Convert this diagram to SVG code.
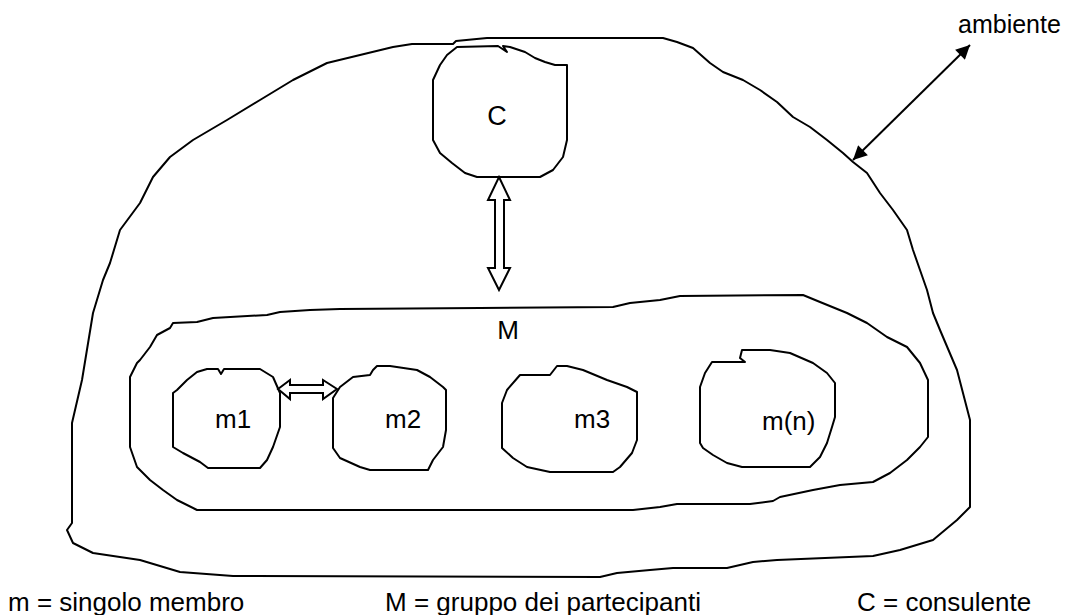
<svg xmlns="http://www.w3.org/2000/svg" width="1072" height="615" viewBox="0 0 1072 615">
<defs>
<style>
.blob{fill:none;stroke:#000;stroke-width:2;stroke-linejoin:round}
.hollow{fill:#fff;stroke:#000;stroke-width:2;stroke-linejoin:miter}
.lbl{font-family:"Liberation Sans",Arial,sans-serif;font-size:26px;fill:#000}
.leg{font-family:"Liberation Sans",Arial,sans-serif;font-size:26px;fill:#000}
</style>
<marker id="ah" viewBox="0 0 10 10" refX="10" refY="5" markerWidth="10" markerHeight="7" markerUnits="strokeWidth" orient="auto-start-reverse">
<path d="M0,0 L10,5 L0,10 z" fill="#000"/>
</marker>
</defs>
<rect width="1072" height="615" fill="#fff"/>

<g id="ambiente-node">
<path class="blob" d="M453,44 L456,41 L487,38 L663,38 L677,42 L693,48 L710,63 L723,72 L743,80 L760,90 L777,102 L793,117 L810,127 L827,140 L843,153 L853,162 L867,173 L880,193 L893,210 L907,230 L913,250 L920,270 L927,290 L933,313 L940,330 L957,370 L970,420 L970,507 L957,520 L933,540 L900,550 L873,556 L777,560 L753,562 L727,568 L673,568 L650,570 L617,573 L600,577 L233,576 L180,572 L140,560 L93,553 L73,543 L67,530 L72,523 L72,423 L82,380 L93,313 L103,280 L110,263 L120,230 L140,203 L153,177 L170,157 L193,140 L227,120 L260,100 L293,80 L327,63 L360,55 L393,47 L412,44 Z"/>
<text class="lbl" x="958" y="33" style="font-size:25px">ambiente</text>
</g>

<g id="node-C">
<path class="blob" d="M457,47 L498,46 L507,52 L503,46 L510,47 L525,52 L535,58 L545,62 L555,65 L567,65 L567,140 L563,157 L553,170 L540,177 L477,177 L465,173 L452,163 L440,153 L433,140 L433,80 L440,65 L447,55 Z"/>
<text class="lbl" x="497" y="125" text-anchor="middle" style="font-size:27px">C</text>
</g>

<g id="node-M">
<path class="blob" d="M340,309 L480,308 L613,307 L630,303 L660,300 L680,296 L803,295 L820,302 L847,313 L867,323 L887,337 L907,347 L920,363 L928,380 L928,437 L920,447 L907,460 L890,473 L873,482 L840,485 L813,490 L780,497 L773,501 L750,504 L677,504 L660,507 L633,510 L197,510 L177,500 L163,490 L150,480 L137,467 L130,447 L130,377 L137,363 L140,360 L150,347 L157,335 L170,328 L173,323 L197,322 L213,318 L267,315 L280,312 L310,310 Z"/>
<text class="lbl" x="508" y="339" text-anchor="middle">M</text>
</g>

<g id="node-m1">
<path class="blob" d="M207,369 L218,369 L221,374 L224,369 L260,369 L273,377 L280,393 L280,427 L273,447 L267,460 L260,468 L208,468 L200,462 L183,453 L173,447 L173,393 L177,390 L187,380 L197,372 Z"/>
<text class="lbl" x="215" y="428">m1</text>
</g>

<g id="node-m2">
<path class="blob" d="M377,366 L390,366 L417,370 L430,377 L443,387 L446,390 L446,430 L443,447 L433,460 L428,470 L370,470 L360,467 L340,458 L333,448 L333,398 L340,387 L353,377 L370,375 L373,370 Z"/>
<text class="lbl" x="385" y="428">m2</text>
</g>

<g id="node-m3">
<path class="blob" d="M520,375 L550,375 L557,366 L567,366 L583,370 L607,380 L627,387 L637,392 L637,440 L632,453 L620,467 L613,472 L550,472 L527,467 L513,458 L502,448 L502,403 L507,390 Z"/>
<text class="lbl" x="574" y="428">m3</text>
</g>

<g id="node-mn">
<path class="blob" d="M712,362 L745,362 L740,358 L742,350 L770,350 L790,353 L813,363 L827,373 L835,383 L835,417 L832,427 L827,443 L820,457 L810,467 L742,467 L727,463 L713,455 L703,448 L700,443 L700,387 L705,373 Z"/>
<text class="lbl" x="762" y="430">m(n)</text>
</g>

<g id="connectors">
<line x1="853" y1="160" x2="970" y2="45" stroke="#000" stroke-width="2" marker-start="url(#ah)" marker-end="url(#ah)"/>
<path class="hollow" d="M499,177 L510,200 L504,200 L504,268 L510,268 L499,290 L488,268 L495,268 L495,200 L488,200 Z"/>
<path class="hollow" d="M278,389 L290,380 L290,385 L323,385 L323,380 L337,389 L323,399 L323,393 L290,393 L290,399 Z"/>
</g>

<g id="legend">
<text class="leg" x="8" y="611">m = singolo membro</text>
<text class="leg" x="385" y="611" textLength="316" lengthAdjust="spacing">M = gruppo dei partecipanti</text>
<text class="leg" x="857" y="611">C = consulente</text>
</g>
</svg>
